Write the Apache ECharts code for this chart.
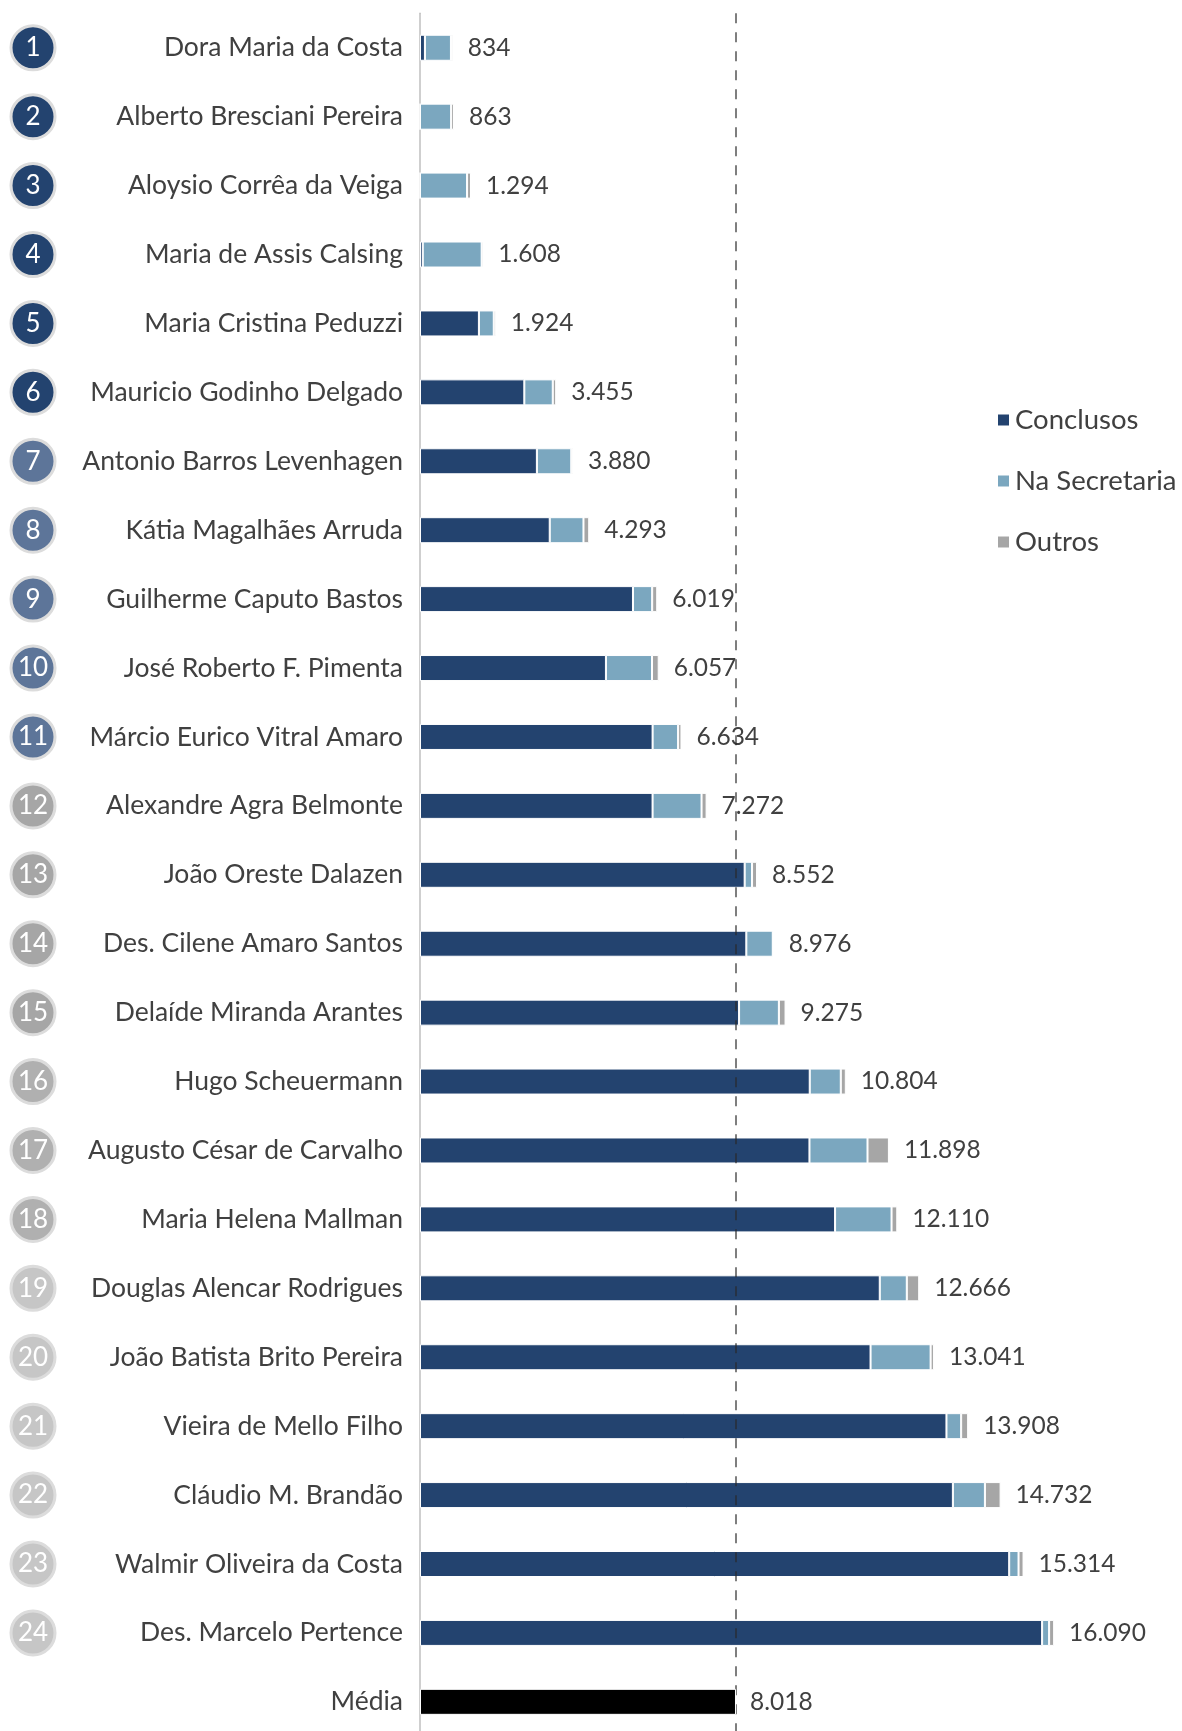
<!DOCTYPE html>
<html>
<head>
<meta charset="utf-8">
<script src="https://cdn.jsdelivr.net/npm/echarts@6/dist/echarts.min.js"></script>
<style>
  body { margin: 0; background: #fff; }
  #chart { width: 1182px; height: 1731px; }
</style>
</head>
<body>
<div id="chart"></div>
<script>
// nomes (ordem de cima para baixo)
var nomes = [
  'Dora Maria da Costa', 'Alberto Bresciani Pereira', 'Aloysio Corrêa da Veiga',
  'Maria de Assis Calsing', 'Maria Cristina Peduzzi', 'Mauricio Godinho Delgado',
  'Antonio Barros Levenhagen', 'Kátia Magalhães Arruda', 'Guilherme Caputo Bastos',
  'José Roberto F. Pimenta', 'Márcio Eurico Vitral Amaro', 'Alexandre Agra Belmonte',
  'João Oreste Dalazen', 'Des. Cilene Amaro Santos', 'Delaíde Miranda Arantes',
  'Hugo Scheuermann', 'Augusto César de Carvalho', 'Maria Helena Mallman',
  'Douglas Alencar Rodrigues', 'João Batista Brito Pereira', 'Vieira de Mello Filho',
  'Cláudio M. Brandão', 'Walmir Oliveira da Costa', 'Des. Marcelo Pertence'
];
var conclusos = [125, 0, 0, 70, 1495, 2647, 2966, 3292, 5404, 4718, 5902, 5901,
  8238, 8280, 8096, 9889, 9882, 10532, 11666, 11432, 13358, 13521, 14950, 15785];
var naSecretaria = [660, 790, 1194, 1495, 377, 722, 872, 856, 487, 1169, 647, 1243,
  187, 671, 1010, 788, 1473, 1433, 686, 1524, 373, 813, 237, 178];
var outros = [49, 73, 100, 43, 52, 86, 42, 145, 128, 170, 85, 128,
  127, 25, 169, 127, 543, 145, 314, 85, 177, 398, 127, 127];
var totais = [834, 863, 1294, 1608, 1924, 3455, 3880, 4293, 6019, 6057, 6634, 7272,
  8552, 8976, 9275, 10804, 11898, 12110, 12666, 13041, 13908, 14732, 15314, 16090];
var media = 8018;

var categorias = nomes.concat(['Média']);
var fonte = 'Lato, "Open Sans", sans-serif';
var corTexto = '#404040';

function fmt(v) {
  return String(v).replace(/\B(?=(\d{3})+(?!\d))/g, '.');
}

function corCirculo(i) {
  if (i < 6) return '#23436f';
  if (i < 11) return '#5d7599';
  if (i < 15) return '#a6a6a6';
  if (i < 18) return '#b0b0b0';
  return '#c6c6c6';
}

function comMedia(arr) {
  return arr.concat([null]);
}

var circulos = nomes.map(function (n, i) {
  return {
    value: [0.5, i],
    itemStyle: { color: corCirculo(i) },
    label: { formatter: String(i + 1) }
  };
});

var borda = { borderColor: '#fff', borderWidth: 1 };

var chart = echarts.init(document.getElementById('chart'));
var option = {
  animation: false,
  textStyle: { fontFamily: fonte },
  legend: {
    orient: 'vertical',
    left: 996,
    top: 405,
    icon: 'rect',
    itemWidth: 13,
    itemHeight: 13,
    itemGap: 31,
    padding: 0,
    data: ['Conclusos', 'Na Secretaria', 'Outros'],
    textStyle: { fontSize: 27.5, color: corTexto, fontFamily: fonte, lineHeight: 30 }
  },
  grid: [
    { left: 420, top: 13.3, width: 709.4, height: 1723, outerBoundsMode: 'none' },
    { left: 10, top: 13.3, width: 46, height: 1723, outerBoundsMode: 'none' }
  ],
  xAxis: [
    { type: 'value', gridIndex: 0, min: 0, max: 18000, show: false },
    { type: 'value', gridIndex: 1, min: 0, max: 1, show: false }
  ],
  yAxis: [
    {
      type: 'category', gridIndex: 0, inverse: true, data: categorias,
      axisLine: { lineStyle: { color: '#bfbfbf', width: 1.5 } },
      axisTick: { length: 9, lineStyle: { color: '#bfbfbf', width: 1.5 } },
      axisLabel: { margin: 17, fontSize: 26.5, color: corTexto, fontFamily: fonte }
    },
    { type: 'category', gridIndex: 1, inverse: true, data: categorias, show: false }
  ],
  series: [
    {
      name: 'Conclusos', type: 'bar', stack: 'total', barWidth: 26,
      itemStyle: Object.assign({ color: '#23436f' }, borda),
      data: comMedia(conclusos)
    },
    {
      name: 'Na Secretaria', type: 'bar', stack: 'total',
      itemStyle: Object.assign({ color: '#7ba7bf' }, borda),
      data: comMedia(naSecretaria)
    },
    {
      name: 'Outros', type: 'bar', stack: 'total',
      itemStyle: Object.assign({ color: '#a6a6a6' }, borda),
      label: {
        show: true, position: 'right', distance: 15,
        fontSize: 24.5, color: corTexto, fontFamily: fonte,
        formatter: function (p) { return fmt(totais[p.dataIndex]); }
      },
      data: comMedia(outros)
    },
    {
      name: 'Média', type: 'bar', stack: 'total',
      itemStyle: Object.assign({ color: '#000000' }, borda),
      label: {
        show: true, position: 'right', distance: 14,
        fontSize: 24.5, color: corTexto, fontFamily: fonte,
        formatter: function (p) { return fmt(p.value); }
      },
      data: nomes.map(function () { return null; }).concat([media]),
      markLine: {
        silent: true,
        symbol: 'none',
        label: { show: false },
        lineStyle: { color: 'rgba(40,40,40,0.6)', type: [10, 9], width: 2 },
        data: [{ xAxis: media }]
      },
      z: 5
    },
    {
      name: 'ranking', type: 'scatter', xAxisIndex: 1, yAxisIndex: 1,
      symbolSize: 44,
      itemStyle: { borderColor: '#dcdcdc', borderWidth: 3, opacity: 1 },
      label: { show: true, position: 'inside', color: '#fff', fontSize: 26, fontFamily: fonte },
      data: circulos
    }
  ]
};
chart.setOption(option);
</script>
</body>
</html>
